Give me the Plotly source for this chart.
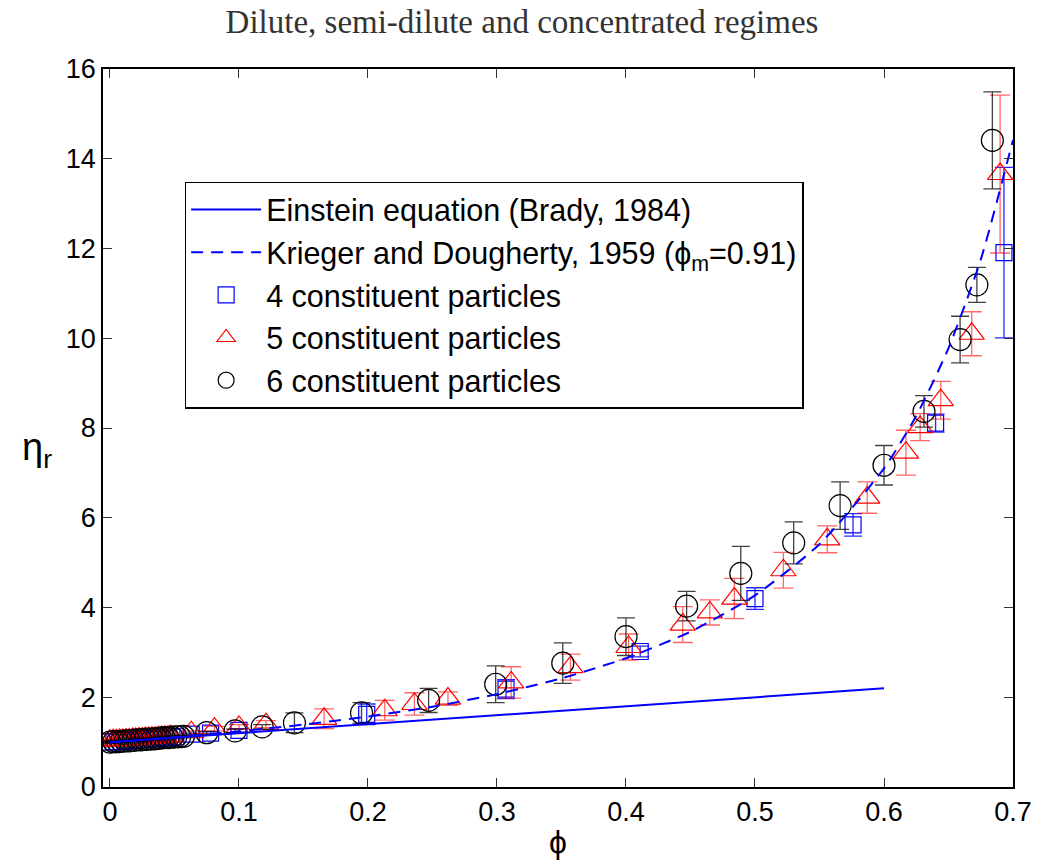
import plotly.graph_objects as go

# ---------------- data ----------------
# Einstein equation (straight line)
ein_phi = [0.0, 0.6]
ein_eta = [1.0, 2.2]

# Krieger & Dougherty curve (phi_m = 0.91)
kd_phi = [0.0, 0.05, 0.1, 0.15, 0.2, 0.25, 0.3, 0.35, 0.4, 0.45, 0.5, 0.55,
          0.6, 0.625, 0.65, 0.675, 0.7]
kd_eta = [1.00, 1.11, 1.24, 1.39, 1.57, 1.79, 2.07, 2.42, 2.87, 3.46, 4.27, 5.41,
          7.10, 8.27, 9.78, 11.75, 14.42]

# 4 constituent particles (squares)
sq_phi = [0.000, 0.003, 0.006, 0.009, 0.012, 0.015, 0.018, 0.021, 0.024, 0.027,
          0.030, 0.033, 0.036, 0.039, 0.042, 0.045, 0.048, 0.051,
          0.063, 0.078, 0.100, 0.199, 0.307, 0.411, 0.500, 0.576, 0.640, 0.693]
sq_eta = [1.00, 1.01, 1.01, 1.02, 1.03, 1.03, 1.04, 1.05, 1.05, 1.06,
          1.07, 1.07, 1.08, 1.09, 1.10, 1.10, 1.11, 1.12,
          1.18, 1.20, 1.26, 1.62, 2.18, 3.02, 4.20, 5.84, 8.11, 11.91]
sq_err = [0.02] * 18 + [0.02, 0.03, 0.04, 0.23, 0.21, 0.12, 0.24, 0.25, 0.20, 1.90]

# 5 constituent particles (triangles)
tr_phi = [0.000, 0.0025, 0.005, 0.0075, 0.010, 0.0125, 0.015, 0.0175, 0.020, 0.0225,
          0.025, 0.0275, 0.030, 0.0325, 0.035, 0.0375, 0.040, 0.0425, 0.045, 0.047,
          0.063, 0.081, 0.100, 0.121, 0.166, 0.213, 0.236, 0.262, 0.311, 0.357,
          0.402, 0.444, 0.465, 0.484, 0.522, 0.556, 0.587, 0.617, 0.628, 0.644,
          0.668, 0.690]
tr_eta = [1.03, 1.04, 1.04, 1.05, 1.05, 1.06, 1.06, 1.07, 1.07, 1.08,
          1.08, 1.09, 1.09, 1.10, 1.10, 1.11, 1.11, 1.12, 1.12, 1.13,
          1.22, 1.30, 1.34, 1.40, 1.52, 1.71, 1.85, 1.97, 2.33, 2.67,
          3.12, 3.62, 3.89, 4.20, 4.83, 5.52, 6.45, 7.45, 8.02, 8.62,
          10.10, 13.66]
tr_err = [0.02] * 20 + [0.03, 0.05, 0.05, 0.08, 0.22, 0.22, 0.25, 0.15, 0.35, 0.29,
                        0.29, 0.40, 0.28, 0.45, 0.40, 0.30, 0.35, 0.50, 0.30, 0.42,
                        0.49, 1.76]

# 6 constituent particles (circles)
ci_phi = [0.000, 0.003, 0.006, 0.009, 0.012, 0.015, 0.018, 0.021, 0.024, 0.027,
          0.030, 0.033, 0.036, 0.039, 0.042, 0.045, 0.048, 0.051, 0.054, 0.057,
          0.075, 0.097, 0.118, 0.143, 0.195, 0.247, 0.299, 0.351, 0.400, 0.447,
          0.489, 0.530, 0.566, 0.600, 0.631, 0.659, 0.672, 0.684]
ci_eta = [1.00, 1.01, 1.01, 1.02, 1.03, 1.03, 1.04, 1.05, 1.05, 1.06,
          1.07, 1.07, 1.08, 1.09, 1.10, 1.10, 1.11, 1.12, 1.12, 1.13,
          1.21, 1.25, 1.34, 1.43, 1.65, 1.93, 2.29, 2.76, 3.35, 4.03,
          4.76, 5.44, 6.27, 7.17, 8.37, 9.97, 11.19, 14.41]
ci_err = [0.02] * 20 + [0.03, 0.04, 0.05, 0.22, 0.23, 0.27, 0.41, 0.45, 0.42, 0.33,
                        0.60, 0.47, 0.53, 0.44, 0.35, 0.52, 0.39, 1.08]

x_ticks = [0, 0.1, 0.2, 0.3, 0.4, 0.5, 0.6, 0.7]
x_tick_labels = ["0", "0.1", "0.2", "0.3", "0.4", "0.5", "0.6", "0.7"]
y_ticks = [0, 2, 4, 6, 8, 10, 12, 14, 16]
y_tick_labels = ["0", "2", "4", "6", "8", "10", "12", "14", "16"]

# ---------------- figure ----------------
FONT = "Liberation Sans, Arial, Helvetica, sans-serif"
fig = go.Figure()

fig.add_trace(go.Scatter(
    x=sq_phi, y=sq_eta, mode="markers", name="4 constituent particles",
    legendrank=3,
    marker=dict(symbol="square-open", size=16, color="#0000ff",
                line=dict(width=1.2, color="#0000ff")),
    error_y=dict(type="data", array=sq_err, color="rgba(0,0,255,0.85)",
                 thickness=1.3, width=9),
))
fig.add_trace(go.Scatter(
    x=tr_phi, y=tr_eta, mode="markers", name="5 constituent particles",
    legendrank=4,
    marker=dict(symbol="triangle-up-open", size=22, color="#ff0000",
                line=dict(width=1.2, color="#ff0000")),
    error_y=dict(type="data", array=tr_err, color="rgba(255,0,0,0.6)",
                 thickness=1.3, width=10),
))
fig.add_trace(go.Scatter(
    x=ci_phi, y=ci_eta, mode="markers", name="6 constituent particles",
    legendrank=5,
    marker=dict(symbol="circle-open", size=22, color="#000000",
                line=dict(width=1.2, color="#000000")),
    error_y=dict(type="data", array=ci_err, color="rgba(0,0,0,0.75)",
                 thickness=1.3, width=9),
))
fig.add_trace(go.Scatter(
    x=ein_phi, y=ein_eta, mode="lines", name="Einstein equation (Brady, 1984)",
    legendrank=1,
    line=dict(color="#0000ff", width=2),
))
fig.add_trace(go.Scatter(
    x=kd_phi, y=kd_eta, mode="lines",
    name="Krieger and Dougherty, 1959 (ϕ<sub>m</sub>=0.91)",
    legendrank=2,
    line=dict(color="#0000ff", width=2, dash="12px,8px", shape="spline", smoothing=0.6),
))

axis_common = dict(
    showline=True, linecolor="black", linewidth=1.5, mirror="allticks",
    ticks="inside", ticklen=9, tickwidth=1, tickcolor="#333333",
    showgrid=False, zeroline=False,
    tickfont=dict(family=FONT, size=27, color="black"),
)

fig.update_xaxes(
    range=[-0.0054, 0.7], tickvals=x_ticks, ticktext=x_tick_labels,
    title=dict(text="ϕ", font=dict(family=FONT, size=32, color="black"), standoff=4),
    **axis_common,
)
fig.update_yaxes(
    range=[0, 16], tickvals=y_ticks, ticktext=y_tick_labels,
    **axis_common,
)

fig.add_annotation(
    text="η<sub>r</sub>", xref="paper", yref="paper", x=-0.072, y=0.47,
    showarrow=False, font=dict(family=FONT, size=38, color="black"),
    xanchor="center", yanchor="middle",
)

fig.update_layout(
    width=1044, height=866,
    margin=dict(l=103, r=27, t=69, b=77),
    paper_bgcolor="white", plot_bgcolor="white",
    title=dict(text="Dilute, semi-dilute and concentrated regimes",
               font=dict(family="Liberation Serif, Times New Roman, serif", size=33,
                         color="#333333"),
               x=0.5, xanchor="center", y=0.975, yanchor="middle"),
    legend=dict(
        x=0.0897, y=0.843, xanchor="left", yanchor="top",
        bgcolor="white", bordercolor="black", borderwidth=1.5,
        font=dict(family=FONT, size=30.5, color="black"),
        itemwidth=70, tracegroupgap=0,
    ),
    showlegend=True,
)

fig.write_html("out.html")
